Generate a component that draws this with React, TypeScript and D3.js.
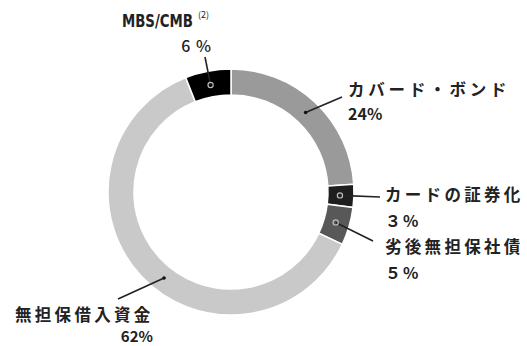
import React from "react";
import * as d3 from "d3";

const categories = ["カバード・ボンド", "カードの証券化", "劣後無担保社債", "無担保借入資金", "MBS/CMB"];
const values = [24, 3, 5, 62, 6];
const pctLabels = ["24%", "３%", "５%", "62%", "6 %"];
const colors = ["#9a9a9a", "#1e1e1e", "#585858", "#c9c9c9", "#000000"];

const W = 527, H = 346;
const cx = 231, cy = 192;
const rOuter = 123, rInner = 97;

const font = "'Noto Sans CJK JP', 'Noto Sans', sans-serif";

// label layout (positions only); frac = where along the slice the leader starts
const labelPos = [
  { x: 348, y: 96, x2: 348, y2: 120, line: [342, 97], frac: 0.5, ls: 3.8 },
  { x: 385, y: 201, x2: 385, y2: 227, line: [380, 197], frac: 0.5, ls: 3.3 },
  { x: 385, y: 253, x2: 385, y2: 279, line: [373, 241], frac: 0.5, ls: 3.3 },
  { x: 15, y: 321, x2: 153, y2: 342, line: [118, 299], frac: 0.46, ls: 3.3 },
  { x: 122, y: 27, x2: 212, y2: 52, line: [205, 57], frac: 0.5, ls: 0 },
];

export default function App() {
  const pie = d3.pie<number>().sort(null).value((d) => d)(values);
  const arc = d3.arc<d3.PieArcDatum<number>>().innerRadius(rInner).outerRadius(rOuter);
  const mid = d3.arc<any>().innerRadius(104).outerRadius(114);
  return (
    <svg width={W} height={H} style={{ position: "absolute", left: 0, top: 0, background: "#fff" }}>
      <g transform={`translate(${cx},${cy})`}>
        {pie.map((p, i) => (
          <path key={i} d={arc(p) || ""} fill={colors[i]} stroke="#fff" strokeWidth={1.5} />
        ))}
      </g>
      {pie.map((p, i) => {
        const lp = labelPos[i];
        const a = p.startAngle + (p.endAngle - p.startAngle) * lp.frac;
        const [mx, my] = mid.centroid({ startAngle: a, endAngle: a });
        const px = cx + mx, py = cy + my;
        return (
          <g key={"l" + i}>
            <path d={`M${px},${py}L${lp.line[0]},${lp.line[1]}`} stroke="#222" strokeWidth={1.6} fill="none" />
            {i === 0 || i === 3 ? (
              <circle cx={px} cy={py} r={1.8} fill="#111" />
            ) : (
              <circle cx={px} cy={py} r={2.6} fill="none" stroke="#bbb" strokeWidth={1.2} />
            )}
          </g>
        );
      })}
      <g fontFamily={font} fill="#222" fontWeight={700}>
        {categories.map((c, i) => {
          const lp = labelPos[i];
          if (i === 4) {
            return (
              <g key={"t" + i}>
                <text transform={`translate(${lp.x},${lp.y}) scale(0.87,1)`} fontSize={17} fontFamily="'DejaVu Sans Condensed', sans-serif" fontWeight={700}>{c}</text>
                <text x={lp.x + 76} y={18} fontSize={9} fontWeight={400}>(2)</text>
                <text x={lp.x2} y={lp.y2} fontSize={16} textAnchor="end" fontWeight={500} letterSpacing={1}>{pctLabels[i]}</text>
              </g>
            );
          }
          return (
            <g key={"t" + i}>
              <text x={lp.x} y={lp.y} fontSize={16.5} letterSpacing={lp.ls}>{c}</text>
              <text x={lp.x2} y={lp.y2} fontSize={i === 3 ? 15 : 16} textAnchor={i === 3 ? "end" : "start"} letterSpacing={i === 1 || i === 2 ? 2 : 0}>{pctLabels[i]}</text>
            </g>
          );
        })}
      </g>
    </svg>
  );
}
